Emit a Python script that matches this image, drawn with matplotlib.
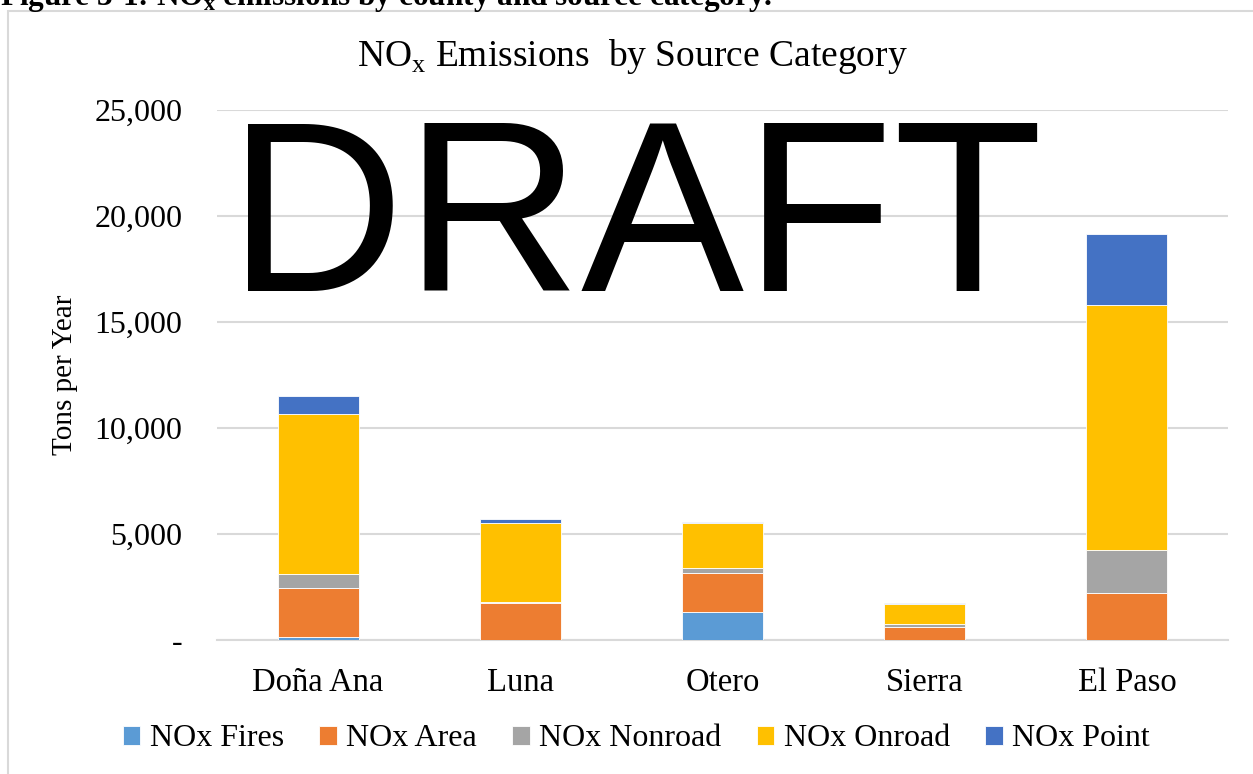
import matplotlib
matplotlib.use("Agg")
import matplotlib.pyplot as plt
from matplotlib.patches import Rectangle
from matplotlib.ticker import FuncFormatter
import numpy as np

plt.rcParams['font.family'] = ['Liberation Serif', 'DejaVu Serif']
plt.rcParams['mathtext.fontset'] = 'custom'
plt.rcParams['mathtext.rm'] = 'Liberation Serif'
plt.rcParams['mathtext.bf'] = 'Liberation Serif:bold'

counties = ["Doña Ana", "Luna", "Otero", "Sierra", "El Paso"]
sources = ["NOx Fires", "NOx Area", "NOx Nonroad", "NOx Onroad", "NOx Point"]
fires = [150, 20, 1340, 10, 20]
area = [2300, 1730, 1820, 620, 2180]
nonroad = [660, 40, 250, 125, 2045]
onroad = [7550, 3730, 2090, 945, 11555]
point = [840, 180, 80, 60, 3340]
colors = ["#5B9BD5", "#ED7D31", "#A5A5A5", "#FFC000", "#4472C4"]

W, H = 1253, 774
fig = plt.figure(figsize=(W / 100, H / 100), dpi=100)

# chart frame and cut-off caption
fig.patches.append(Rectangle((8 / W, -0.1), 1.2, 1 - 11 / H + 0.1,
                             transform=fig.transFigure, fill=False,
                             edgecolor="#D9D9D9", lw=1.5))
fig.text(0.0, 1 - 5 / H, r"Figure 3-1: NO$_\mathbf{x}$ emissions by county and source category.",
         fontsize=22.5, fontweight="bold", ha="left", va="baseline")

ax = fig.add_axes([217 / W, 1 - 640 / H, 1011 / W, 530 / H])
x = np.arange(len(counties))
bottom = np.zeros(len(counties))
for name, vals, c in zip(sources, [fires, area, nonroad, onroad, point], colors):
    ax.bar(x, vals, 0.4, bottom=bottom, color=c, label=name,
           edgecolor="white", linewidth=0.6, zorder=3)
    bottom += np.array(vals)

ax.set_xlim(-0.5, 4.5)
ax.set_ylim(0, 25000)
ax.set_yticks(np.arange(0, 25001, 5000))
ax.yaxis.set_major_formatter(FuncFormatter(lambda v, p: "-" if v == 0 else f"{int(v):,}"))
ax.set_xticks(x)
ax.set_xticklabels(counties)
ax.tick_params(axis="y", length=0, pad=25, labelsize=23)
ax.tick_params(axis="x", length=0, pad=20, labelsize=23.5)
ax.grid(axis="y", color="#D9D9D9", lw=1.5, zorder=0)
for s in ["top", "right", "left"]:
    ax.spines[s].set_visible(False)
ax.spines["bottom"].set_color("#D9D9D9")
ax.spines["bottom"].set_linewidth(1.5)
ax.set_ylabel("Tons per Year", fontsize=21, labelpad=12)

fig.text(632 / W, 1 - 66 / H, r"NO$_\mathrm{x}$ Emissions  by Source Category",
         fontsize=27, ha="center", va="baseline")

fig.legend(loc="center", bbox_to_anchor=(0.508, 1 - 739 / H), ncol=5, frameon=False,
           fontsize=23, handlelength=0.55, handleheight=0.55, handletextpad=0.3,
           columnspacing=1.1)

fig.text(635 / W, 1 - 291 / H, "DRAFT", fontsize=176, family="Liberation Sans",
         ha="center", va="baseline", color="black", zorder=10)

fig.savefig("out.png", dpi=100)
